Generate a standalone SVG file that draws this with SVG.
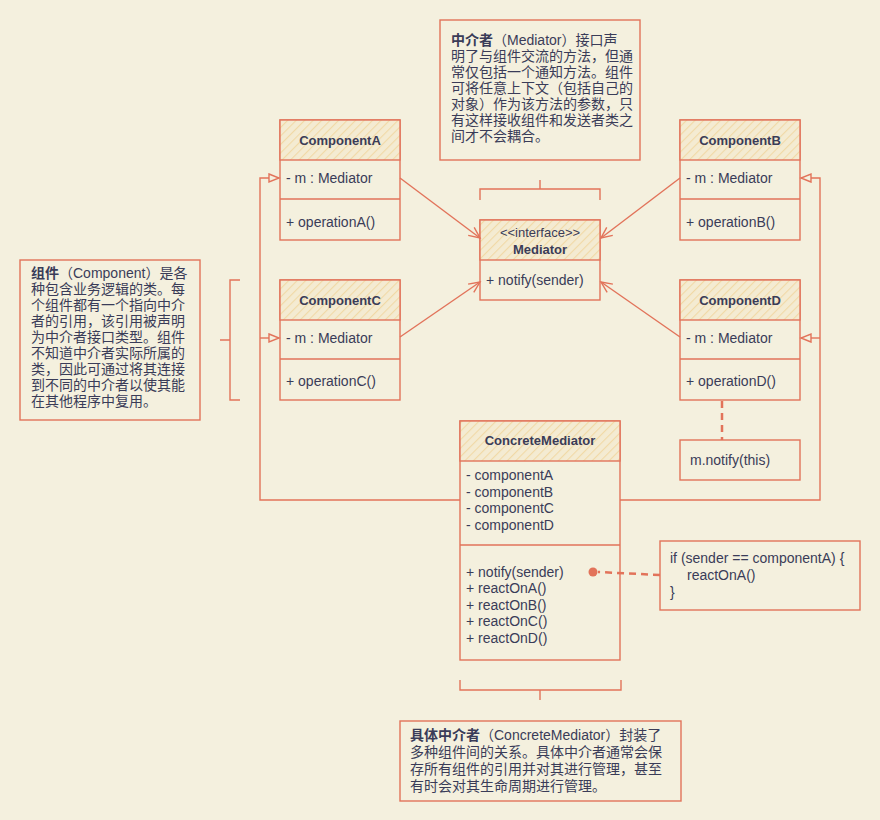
<svg xmlns="http://www.w3.org/2000/svg" width="880" height="820" viewBox="0 0 880 820">
<defs>
<style>
.bg{fill:#f4f0de}
.box{fill:#f4f0de;stroke:#e2735a;stroke-width:1.4}
.hdr{fill:url(#hatch);stroke:#e2735a;stroke-width:1.4}
.ln{fill:none;stroke:#e2735a;stroke-width:1.4}
.dash{fill:none;stroke:#e2735a;stroke-width:2.5;stroke-dasharray:7 5}
.t{font-family:"Liberation Sans","Noto Sans CJK SC",sans-serif;font-size:14px;fill:#3a3c58}
.ts{font-family:"Liberation Sans","Noto Sans CJK SC",sans-serif;font-size:13px;fill:#3a3c58}
.tb{font-family:"Liberation Sans","Noto Sans CJK SC",sans-serif;font-size:13px;font-weight:bold;fill:#3a3c58}
.n{font-family:"Liberation Sans","Noto Sans CJK SC",sans-serif;font-size:14px;fill:#3a3c58}
.nb{font-weight:bold}
</style>
<pattern id="hatch" width="6" height="6" patternUnits="userSpaceOnUse" patternTransform="rotate(45)">
<rect width="6" height="6" fill="#f4ebd2"/>
<line x1="0" y1="0" x2="0" y2="6" stroke="#f1d9a6" stroke-width="2.2"/>
</pattern>
<marker id="vee" markerWidth="14" markerHeight="14" refX="12" refY="6" orient="auto" markerUnits="userSpaceOnUse">
<path d="M1,1 L12,6 L1,11" fill="none" stroke="#e2735a" stroke-width="1.4"/>
</marker>
<marker id="tri" markerWidth="14" markerHeight="14" refX="11" refY="5" orient="auto" markerUnits="userSpaceOnUse">
<path d="M1,1 L11,5 L1,9 Z" fill="#f4f0de" stroke="#e2735a" stroke-width="1.4"/>
</marker>
</defs>
<rect class="bg" x="0" y="0" width="880" height="820"/>

<g id="note-mediator">
<rect class="box" x="440" y="20" width="200" height="140"/>
<text class="n" x="451" y="45"><tspan class="nb">中介者</tspan>（Mediator）接口声</text>
<text class="n" x="451" y="61">明了与组件交流的方法，但通</text>
<text class="n" x="451" y="77">常仅包括一个通知方法。组件</text>
<text class="n" x="451" y="93">可将任意上下文（包括自己的</text>
<text class="n" x="451" y="109">对象）作为该方法的参数，只</text>
<text class="n" x="451" y="125">有这样接收组件和发送者类之</text>
<text class="n" x="451" y="141">间才不会耦合。</text>
</g>

<g id="note-component">
<rect class="box" x="20" y="260" width="180" height="160"/>
<text class="n" x="31" y="278"><tspan class="nb">组件</tspan>（Component）是各</text>
<text class="n" x="31" y="294">种包含业务逻辑的类。每</text>
<text class="n" x="31" y="310">个组件都有一个指向中介</text>
<text class="n" x="31" y="326">者的引用，该引用被声明</text>
<text class="n" x="31" y="342">为中介者接口类型。组件</text>
<text class="n" x="31" y="358">不知道中介者实际所属的</text>
<text class="n" x="31" y="374">类，因此可通过将其连接</text>
<text class="n" x="31" y="390">到不同的中介者以使其能</text>
<text class="n" x="31" y="406">在其他程序中复用。</text>
</g>

<g id="note-concrete">
<rect class="box" x="400" y="721" width="281" height="80"/>
<text class="n" x="410" y="740"><tspan class="nb">具体中介者</tspan>（ConcreteMediator）封装了</text>
<text class="n" x="410" y="757">多种组件间的关系。具体中介者通常会保</text>
<text class="n" x="410" y="774">存所有组件的引用并对其进行管理，甚至</text>
<text class="n" x="410" y="791">有时会对其生命周期进行管理。</text>
</g>

<g id="componentA">
<rect class="box" x="280" y="120" width="120" height="120"/>
<rect class="hdr" x="280" y="120" width="120" height="40"/>
<line class="ln" x1="280" y1="199" x2="400" y2="199"/>
<text class="tb" x="340" y="145" text-anchor="middle">ComponentA</text>
<text class="t" x="286" y="183">- m : Mediator</text>
<text class="t" x="286" y="227">+ operationA()</text>
</g>

<g id="componentC">
<rect class="box" x="280" y="280" width="120" height="120"/>
<rect class="hdr" x="280" y="280" width="120" height="40"/>
<line class="ln" x1="280" y1="359" x2="400" y2="359"/>
<text class="tb" x="340" y="305" text-anchor="middle">ComponentC</text>
<text class="t" x="286" y="343">- m : Mediator</text>
<text class="t" x="286" y="386">+ operationC()</text>
</g>

<g id="componentB">
<rect class="box" x="680" y="120" width="120" height="120"/>
<rect class="hdr" x="680" y="120" width="120" height="40"/>
<line class="ln" x1="680" y1="199" x2="800" y2="199"/>
<text class="tb" x="740" y="145" text-anchor="middle">ComponentB</text>
<text class="t" x="686" y="183">- m : Mediator</text>
<text class="t" x="686" y="227">+ operationB()</text>
</g>

<g id="componentD">
<rect class="box" x="680" y="280" width="120" height="120"/>
<rect class="hdr" x="680" y="280" width="120" height="40"/>
<line class="ln" x1="680" y1="359" x2="800" y2="359"/>
<text class="tb" x="740" y="305" text-anchor="middle">ComponentD</text>
<text class="t" x="686" y="343">- m : Mediator</text>
<text class="t" x="686" y="386">+ operationD()</text>
</g>

<g id="mediator">
<rect class="box" x="480" y="220" width="120" height="80"/>
<rect class="hdr" x="480" y="220" width="120" height="40"/>
<text class="ts" x="540" y="237" text-anchor="middle">&lt;&lt;interface&gt;&gt;</text>
<text class="tb" x="540" y="254" text-anchor="middle">Mediator</text>
<text class="t" x="486" y="285">+ notify(sender)</text>
</g>

<g id="mnotify">
<rect class="box" x="680" y="440" width="120" height="40"/>
<text class="t" x="690" y="465">m.notify(this)</text>
</g>

<g id="concreteMediator">
<rect class="box" x="460" y="421" width="160" height="239"/>
<rect class="hdr" x="460" y="421" width="160" height="40"/>
<line class="ln" x1="460" y1="545" x2="620" y2="545"/>
<text class="tb" x="540" y="445" text-anchor="middle">ConcreteMediator</text>
<text class="t" x="466" y="480">- componentA</text>
<text class="t" x="466" y="497">- componentB</text>
<text class="t" x="466" y="513">- componentC</text>
<text class="t" x="466" y="530">- componentD</text>
<text class="t" x="466" y="577">+ notify(sender)</text>
<text class="t" x="466" y="593">+ reactOnA()</text>
<text class="t" x="466" y="610">+ reactOnB()</text>
<text class="t" x="466" y="626">+ reactOnC()</text>
<text class="t" x="466" y="643">+ reactOnD()</text>
</g>

<g id="code-note">
<rect class="box" x="660" y="541" width="200" height="69"/>
<text class="t" x="670" y="563">if (sender == componentA) {</text>
<text class="t" x="687" y="580">reactOnA()</text>
<text class="t" x="670" y="597">}</text>
</g>

<g id="connectors">
<line class="ln" x1="400" y1="178" x2="480" y2="238" marker-end="url(#vee)"/>
<line class="ln" x1="400" y1="337" x2="480" y2="282" marker-end="url(#vee)"/>
<line class="ln" x1="680" y1="178" x2="601" y2="238" marker-end="url(#vee)"/>
<line class="ln" x1="680" y1="337" x2="601" y2="282" marker-end="url(#vee)"/>
<path class="ln" d="M460,500 L260,500 L260,178 L279,178" marker-end="url(#tri)"/>
<path class="ln" d="M260,338 L279,338" marker-end="url(#tri)"/>
<path class="ln" d="M620,500 L820,500 L820,178 L801,178" marker-end="url(#tri)"/>
<path class="ln" d="M820,338 L801,338" marker-end="url(#tri)"/>
<line class="dash" x1="722" y1="401" x2="722" y2="440"/>
<line class="dash" x1="660" y1="575" x2="598" y2="572"/>
<circle cx="593" cy="572" r="4.5" fill="#e2735a"/>
<path class="ln" d="M480,200 L480,189 L600,189 L600,200 M540,189 L540,180" stroke-width="2"/>
<path class="ln" d="M240,280 L230,280 L230,400 L240,400 M230,340 L220,340" stroke-width="2"/>
<path class="ln" d="M460,680 L460,690 L621,690 L621,680 M540,690 L540,700" stroke-width="2"/>
</g>
</svg>
